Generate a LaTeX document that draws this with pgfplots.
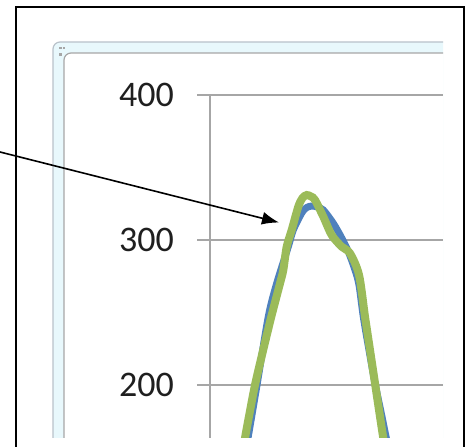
\documentclass[border=0pt]{standalone}
\usepackage{fontspec}
\setmainfont{Carlito}
\usepackage{pgfplots}
\pgfplotsset{compat=1.18}
\usetikzlibrary{arrows.meta}

\definecolor{serblue}{HTML}{4F81BD}
\definecolor{sergreen}{HTML}{9BBB59}
\definecolor{gridgray}{HTML}{A6A6A6}
\definecolor{framefill}{HTML}{E8F8FC}
\definecolor{frameline}{HTML}{B9C2CA}

\begin{document}
\begin{tikzpicture}[x=1pt,y=1pt]
\useasboundingbox (0,0) rectangle (470,446);
\fill[white] (0,0) rectangle (470,446);

% chart frame (cropped screenshot)
\begin{scope}
  \clip (0,8) rectangle (443,446);
  \draw[frameline, line width=1.2pt, fill=framefill, rounded corners=7pt] (53,-60) rectangle (620,404);
  \draw[gridgray, line width=1.2pt, fill=white, rounded corners=7pt] (64,-60) rectangle (620,393);
  \fill[gray!70] (59,396.5) rectangle (61.5,399);
  \fill[gray!70] (62.5,396.5) rectangle (65,399);
  \fill[gray!70] (59,390) rectangle (61.5,392.5);
\end{scope}

\begin{axis}[
  at={(210pt,8pt)}, anchor=south west,
  scale only axis, width=233pt, height=343pt,
  xmin=210, xmax=443,
  ymin=163.45, ymax=400,
  axis x line=none,
  axis y line=left,
  axis line style={gridgray, line width=1.5pt, -},
  ytick={200,300,400},
  tick align=outside,
  major tick length=13pt,
  tick style={gridgray, line width=1.5pt},
  ymajorgrids,
  grid style={gridgray, line width=1.5pt},
  /pgf/number format/assume math mode=true,
  yticklabel style={font=\fontsize{36}{40}\selectfont, text=black!88, anchor=east, inner sep=0pt, xshift=-23pt},
]
\addplot[serblue, line width=7pt, smooth] coordinates {
  (246,155.2) (248,163.4) (257,200.0) (268.3,247.1) (276.7,270.1)
  (288.3,295.4) (293.3,306.9) (301.7,318.6) (306.7,322.4) (311.7,323.4)
  (317,322.8) (323.3,320.7) (333.3,311.5) (341.7,301.4) (348.3,292.0)
  (355,279.3) (359,269.0) (363.3,247.1) (369,224.1) (375,201.2)
  (381,181.4) (386.7,162.1) (389,155.2)
};
\addplot[sergreen, line width=8pt, smooth] coordinates {
  (243.5,155.2) (245,163.4) (250,182.1) (255,200.0) (261.5,219.3)
  (268,237.9) (273,251.7) (280,270.1) (283.3,279.3) (286.7,295.4)
  (291.7,306.9) (298.3,323.0) (302.5,329.0) (306.7,331.0) (311,330.0)
  (315,327.6) (323.3,316.1) (331.7,303.4) (341.7,295.4) (350,290.8)
  (359,275.9) (365,247.1) (370,224.1) (375,201.2) (380,178.2)
  (383.3,163.2) (385,155.2)
};
\end{axis}

% outer black border
\draw[black, line width=2pt] (15.5,-10) -- (15.5,438.5) -- (463.5,438.5) -- (463.5,-10);

% pointer arrow
\draw[black, line width=1.6pt, -{Latex[length=17pt,width=13pt]}] (-2,294.5) -- (279,223.5);
\end{tikzpicture}
\end{document}
